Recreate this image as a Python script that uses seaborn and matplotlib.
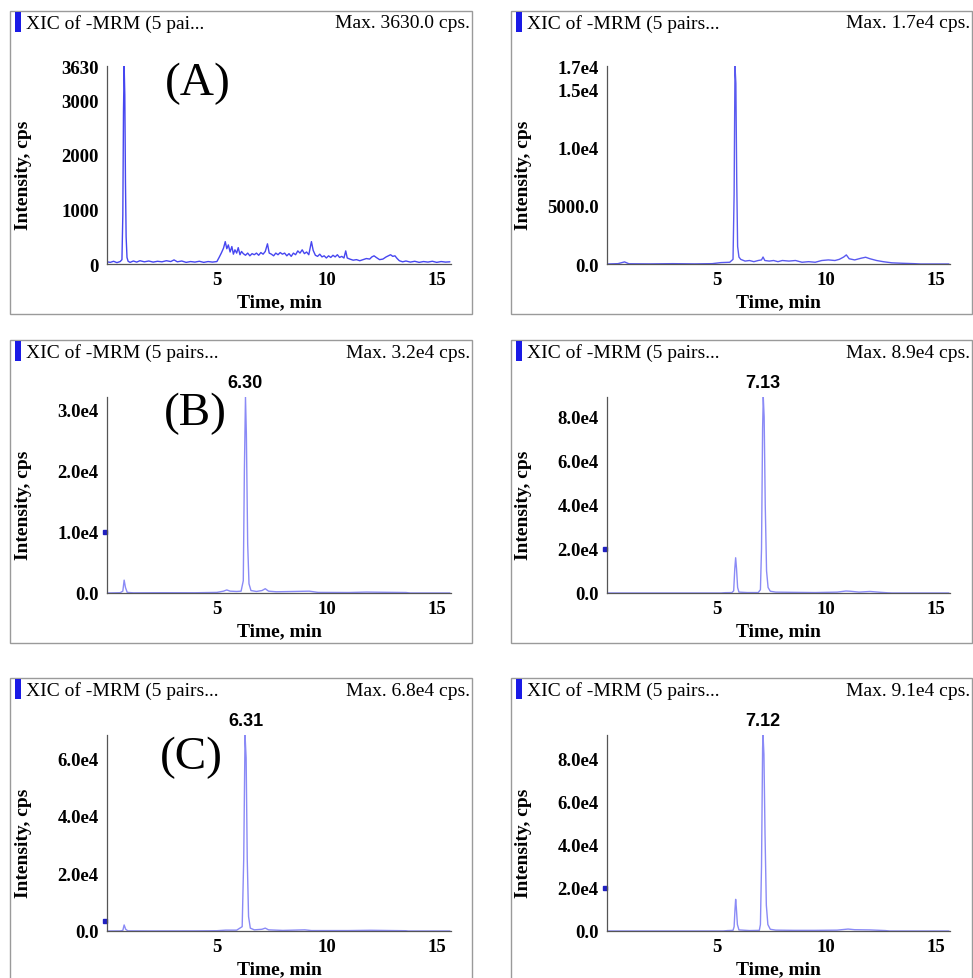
import numpy as np
import matplotlib
matplotlib.use("Agg")
import matplotlib.pyplot as plt
from matplotlib.patches import Rectangle
from matplotlib.ticker import MultipleLocator, FixedLocator
import seaborn as sns

# --- panel data (time in min, intensity in cps) ---
p1_t = [0.00, 0.15, 0.30, 0.45, 0.60, 0.68, 0.72, 0.75, 0.78, 0.81, 0.84, 0.87, 0.91, 0.96,
        1.05, 1.2, 1.35, 1.5, 1.7, 1.9, 2.1, 2.3, 2.5, 2.7, 2.9, 3.05, 3.2, 3.4, 3.6, 3.8,
        4.0, 4.2, 4.4, 4.6, 4.8, 5.0, 5.1, 5.2, 5.3, 5.38, 5.45, 5.52, 5.6, 5.68, 5.75,
        5.82, 5.9, 5.97, 6.05, 6.12, 6.2, 6.3, 6.4, 6.5, 6.6, 6.7, 6.8, 6.9, 7.0, 7.1,
        7.2, 7.3, 7.38, 7.48, 7.58, 7.68, 7.78, 7.88, 7.98, 8.08, 8.18, 8.28, 8.38, 8.48,
        8.58, 8.68, 8.78, 8.88, 8.98, 9.08, 9.18, 9.3, 9.38, 9.48, 9.58, 9.68, 9.78, 9.88,
        9.98, 10.08, 10.18, 10.28, 10.38, 10.48, 10.58, 10.68, 10.78, 10.86, 10.93, 11.05,
        11.2, 11.35, 11.5, 11.65, 11.8, 11.95, 12.05, 12.15, 12.25, 12.4, 12.55, 12.7,
        12.8, 12.9, 13.0, 13.1, 13.2, 13.3, 13.45, 13.6, 13.8, 14.0, 14.2, 14.4, 14.6,
        14.8, 15.0, 15.2, 15.4, 15.6]
p1_y = [40, 30, 50, 25, 45, 80, 900, 2800, 3630, 3100, 1500, 500, 120, 50,
        30, 55, 35, 60, 40, 55, 35, 50, 40, 60, 45, 75, 40, 55, 30, 45,
        35, 50, 30, 45, 35, 45, 120, 200, 290, 410, 280, 350, 220, 320, 180,
        260, 200, 300, 170, 230, 190, 160, 200, 150, 190, 170, 200, 160, 210, 180,
        230, 370, 200, 180, 150, 200, 170, 210, 180, 200, 150, 190, 140, 200,
        170, 240, 200, 260, 190, 220, 170, 410, 250, 160, 140, 180, 130, 150,
        110, 150, 120, 160, 130, 170, 120, 140, 110, 240, 110, 90,
        70, 80, 60, 80, 100, 90, 130, 150, 120, 80, 90, 130,
        150, 170, 140, 150, 100, 60, 40, 55, 35, 50, 30, 45, 35,
        50, 30, 45, 35, 40]

p2_t = [0.0, 0.5, 0.8, 1.0, 2.0, 3.0, 4.0, 4.8, 5.2, 5.6, 5.75, 5.8, 5.84, 5.88, 5.92,
        5.96, 6.02, 6.1, 6.3, 6.5, 6.7, 6.9, 7.05, 7.12, 7.2, 7.4, 7.6, 7.8, 8.0, 8.3,
        8.6, 8.9, 9.2, 9.5, 9.8, 10.1, 10.4, 10.6, 10.8, 10.92, 11.05, 11.3, 11.6, 11.8,
        12.0, 12.3, 12.6, 13.0, 13.5, 14.0, 14.3, 15.6]
p2_y = [0, 30, 180, 20, 10, 30, 10, 30, 120, 150, 400, 6000, 17000, 15500, 7000,
        1500, 600, 400, 250, 300, 200, 300, 350, 600, 300, 250, 300, 200, 300, 250,
        300, 150, 200, 150, 300, 350, 300, 400, 600, 780, 450, 350, 500, 580,
        450, 300, 200, 100, 60, 30, 0, 0]

p3_t = [0.0, 0.6, 0.72, 0.78, 0.84, 0.92, 1.2, 2.5, 4.0, 5.0, 5.3, 5.45, 5.6, 5.9, 6.1,
        6.2, 6.25, 6.30, 6.34, 6.4, 6.46, 6.55, 6.8, 7.05, 7.2, 7.35, 7.7, 8.5, 9.2, 9.6,
        11.0, 11.8, 12.5, 13.6, 13.8, 15.6]
p3_y = [0, 50, 300, 2100, 900, 100, 30, 50, 40, 100, 300, 500, 300, 250, 300,
        2000, 20000, 32000, 26000, 8000, 1500, 400, 250, 400, 700, 300, 200, 250, 300, 100,
        80, 150, 120, 80, 0, 0]

p4_t = [0.0, 5.2, 5.4, 5.7, 5.78, 5.83, 5.87, 5.91, 5.96, 6.02, 6.4, 6.9, 7.0, 7.05, 7.10,
        7.13, 7.17, 7.22, 7.28, 7.35, 7.45, 7.7, 8.5, 9.5, 10.5, 10.9, 11.1, 11.5, 12.0,
        12.5, 12.8, 13.0, 15.6]
p4_y = [0, 0, 150, 200, 1000, 11000, 16000, 11000, 2500, 400, 200, 200, 1500, 20000, 75000,
        89000, 80000, 40000, 10000, 2500, 800, 400, 300, 200, 400, 900, 800, 400, 700,
        300, 100, 0, 0]

p5_t = [0.0, 0.6, 0.72, 0.78, 0.85, 0.95, 2.0, 4.0, 5.0, 5.4, 5.9, 6.15, 6.22, 6.28, 6.33,
        6.38, 6.44, 6.52, 6.7, 7.05, 7.2, 7.35, 8.0, 9.0, 9.3, 11.0, 12.0, 13.0, 13.6,
        13.7, 15.6]
p5_y = [0, 30, 200, 2100, 600, 50, 30, 40, 100, 300, 300, 1500, 25000, 68000, 60000,
        25000, 5000, 1000, 400, 600, 1000, 400, 200, 400, 150, 150, 250, 150, 100,
        0, 0]

p6_t = [0.0, 5.3, 5.5, 5.75, 5.8, 5.84, 5.87, 5.9, 5.95, 6.02, 6.5, 6.95, 7.0, 7.05, 7.1,
        7.12, 7.16, 7.21, 7.27, 7.34, 7.45, 7.7, 8.5, 9.5, 10.5, 11.0, 11.3, 12.0, 12.7,
        12.9, 15.6]
p6_y = [0, 0, 200, 300, 2000, 10000, 14700, 11000, 3000, 500, 200, 300, 3000, 30000, 85000,
        91000, 82000, 45000, 12000, 3000, 800, 400, 300, 300, 400, 900, 600, 500, 200,
        0, 0]

titles = ["XIC of -MRM (5 pai...", "XIC of -MRM (5 pairs...", "XIC of -MRM (5 pairs...",
          "XIC of -MRM (5 pairs...", "XIC of -MRM (5 pairs...", "XIC of -MRM (5 pairs..."]
max_labels = ["Max. 3630.0 cps.", "Max. 1.7e4 cps.", "Max. 3.2e4 cps.",
              "Max. 8.9e4 cps.", "Max. 6.8e4 cps.", "Max. 9.1e4 cps."]
y_max = [3630, 17000, 32000, 89000, 68000, 91000]
y_ticks = [[0, 1000, 2000, 3000, 3630],
           [0, 5000, 10000, 15000, 17000],
           [0, 10000, 20000, 30000],
           [0, 20000, 40000, 60000, 80000],
           [0, 20000, 40000, 60000],
           [0, 20000, 40000, 60000, 80000]]
y_ticklabels = [["0", "1000", "2000", "3000", "3630"],
                ["0.0", "5000.0", "1.0e4", "1.5e4", "1.7e4"],
                ["0.0", "1.0e4", "2.0e4", "3.0e4"],
                ["0.0", "2.0e4", "4.0e4", "6.0e4", "8.0e4"],
                ["0.0", "2.0e4", "4.0e4", "6.0e4"],
                ["0.0", "2.0e4", "4.0e4", "6.0e4", "8.0e4"]]
y_minor = [500, 2500, 5000, 10000, 10000, 10000]
peak_rt = [None, None, 6.30, 7.13, 6.31, 7.12]
peak_labels = [None, None, "6.30", "7.13", "6.31", "7.12"]
marker_y = [None, None, 10000, 20000, 3500, 20000]
panel_letters = ["(A)", None, "(B)", None, "(C)", None]

traces = [(p1_t, p1_y), (p2_t, p2_y), (p3_t, p3_y), (p4_t, p4_y), (p5_t, p5_y), (p6_t, p6_y)]
line_colors = ["#4646f0", "#5a5af0", "#8a8af6", "#8a8af6", "#8a8af6", "#8a8af6"]

sns.set_style("white")
plt.rcParams["font.family"] = ["Liberation Serif", "DejaVu Serif"]
plt.rcParams["text.color"] = "black"
plt.rcParams["axes.labelcolor"] = "black"
plt.rcParams["xtick.labelcolor"] = "black"
plt.rcParams["ytick.labelcolor"] = "black"

W, H = 973, 979
fig = plt.figure(figsize=(W / 100, H / 100), dpi=100)
fig.patch.set_facecolor("white")


def fx(px):
    return px / W


def fy(py):
    return 1 - py / H


col_box = [(10, 472), (511, 972)]
col_axes = [(107, 451), (607, 950)]
row_box = [(12, 315), (341, 644), (679, 1000)]
row_axes = [(67, 265), (398, 594), (736, 932)]
row_head = [24, 353, 691]
letter_pos = [(0.265, 0.915), None, (0.256, 0.92), None, (0.244, 0.89), None]

for i in range(6):
    r, c = divmod(i, 2)
    bx0, bx1 = col_box[c]
    by0, by1 = row_box[r]
    fig.patches.append(Rectangle((fx(bx0), fy(by1)), fx(bx1 - bx0), (by1 - by0) / H,
                                 transform=fig.transFigure, fill=False,
                                 edgecolor="#9a9a9a", lw=1.0))
    # header strip
    fig.patches.append(Rectangle((fx(bx0 + 5), fy(by0 + 21)), fx(6), 20 / H,
                                 transform=fig.transFigure, facecolor="#1a1ae6",
                                 edgecolor="none"))
    fig.text(fx(bx0 + 16), fy(row_head[r]), titles[i], fontsize=14,
             ha="left", va="center", color="black")
    fig.text(fx(bx1 - 2), fy(row_head[r]), max_labels[i], fontsize=14,
             ha="right", va="center", color="black")

    ax0, ax1 = col_axes[c]
    ay0, ay1 = row_axes[r]
    ax = fig.add_axes([fx(ax0), fy(ay1), fx(ax1 - ax0), (ay1 - ay0) / H])
    t, y = traces[i]
    sns.lineplot(x=t, y=y, ax=ax, color=line_colors[i], lw=1.0)

    ax.set_xlim(0, 15.65)
    ax.set_ylim(0, y_max[i])
    ax.set_xticks([5, 10, 15])
    ax.set_xticklabels(["5", "10", "15"], fontweight="bold", fontsize=13.5)
    ax.xaxis.set_minor_locator(MultipleLocator(1))
    ax.yaxis.set_major_locator(FixedLocator(y_ticks[i]))
    ax.set_yticklabels(y_ticklabels[i], fontweight="bold", fontsize=13.5)
    ax.yaxis.set_minor_locator(MultipleLocator(y_minor[i]))
    ax.tick_params(which="major", direction="inout", length=4, width=0.8,
                   color="#666666", pad=3, labelcolor="black")
    ax.tick_params(which="minor", direction="inout", length=3, width=0.6,
                   color="#888888")
    ax.tick_params(axis="y", which="major", pad=4)
    for s in ["top", "right"]:
        ax.spines[s].set_visible(False)
    for s in ["left", "bottom"]:
        ax.spines[s].set_color("#555555")
        ax.spines[s].set_linewidth(0.9)

    ax.set_xlabel("Time, min", fontweight="bold", fontsize=14, color="black")
    ax.set_ylabel("Intensity, cps", fontweight="bold", fontsize=14, color="black")
    ax.xaxis.set_label_coords(0.5, -38 / (ay1 - ay0))
    ax.xaxis.label.set_va("center")
    ax.yaxis.set_label_coords(-83 / (ax1 - ax0), 0.455)
    ax.yaxis.label.set_va("center")

    if peak_labels[i]:
        ax.annotate(peak_labels[i], xy=(peak_rt[i], y_max[i]), xytext=(0, 4),
                    textcoords="offset points", ha="center", va="bottom",
                    fontsize=13, fontweight="bold", color="black",
                    family=["Liberation Sans", "DejaVu Sans"], annotation_clip=False)
    if marker_y[i] is not None:
        ax.plot([-0.1], [marker_y[i]], marker="s", ms=2.2, color="#2020c0",
                clip_on=False)
    if panel_letters[i]:
        lx, ly = letter_pos[i]
        ax.text(lx, ly, panel_letters[i], transform=ax.transAxes, fontsize=34,
                ha="center", va="center", color="black")

fig.savefig("out.png", dpi=100, facecolor="white")
